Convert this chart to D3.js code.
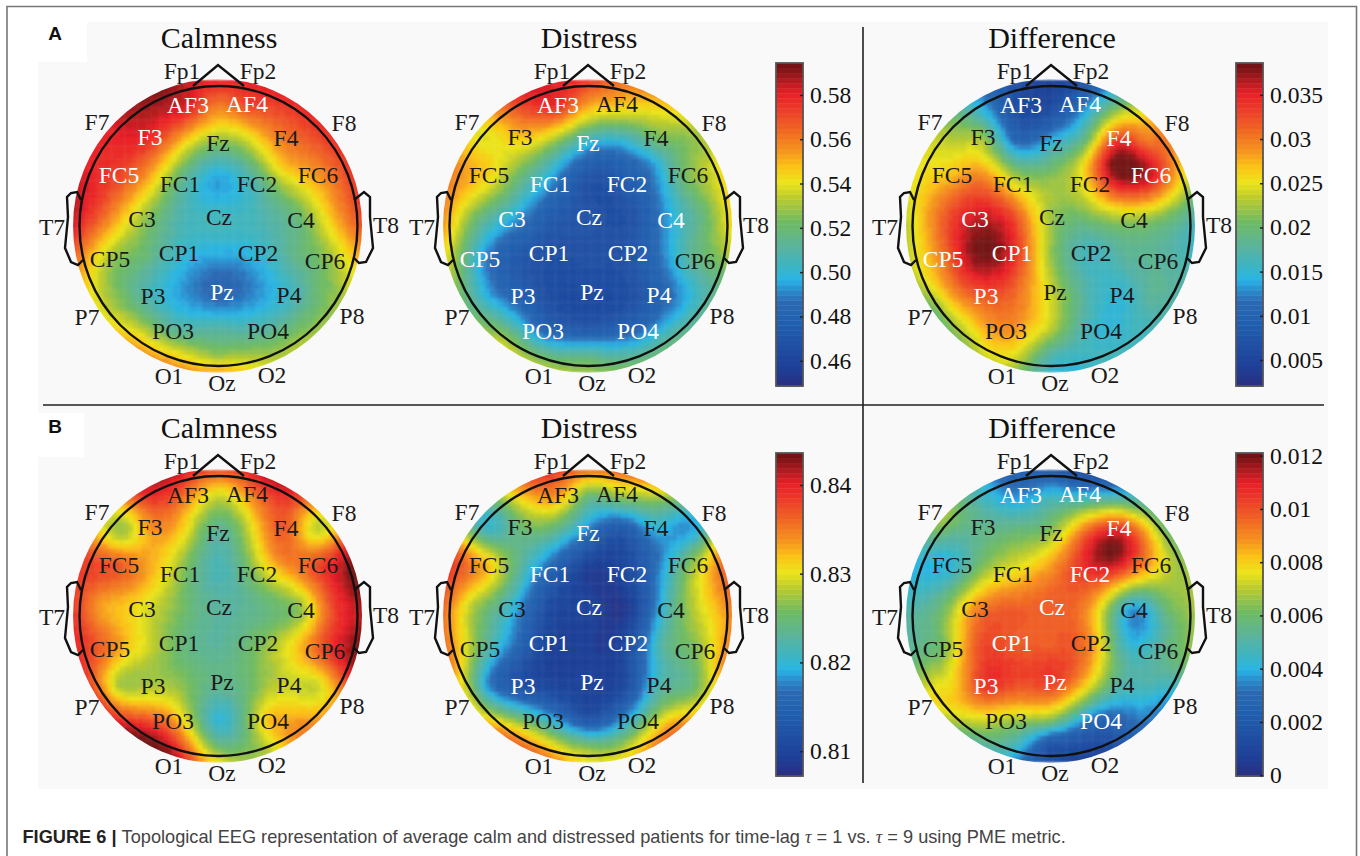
<!DOCTYPE html>
<html>
<head>
<meta charset="utf-8">
<script src="https://cdn.jsdelivr.net/npm/d3@7"></script>
<style>
  html, body { margin: 0; background: #fff; }
  svg { display: block; }
  .serif { font-family: "Liberation Serif", serif; }
  .bar-axis text { font-family: "Liberation Serif", serif; font-size: 23.5px; fill: #111; }
  .bar-axis line { stroke: #222; stroke-width: 1.5; }
</style>
</head>
<body>
<svg id="figure" width="1360" height="856"></svg>
<script>
const sensorNames = ["Fp1","Fp2","AF3","AF4","F7","F3","Fz","F4","F8","FC5","FC1","FC2","FC6","T7","C3","Cz","C4","T8","CP5","CP1","CP2","CP6","P7","P3","Pz","P4","P8","PO3","PO4","O1","Oz","O2"];
const sensorX = [-36,40,-30,29,-121,-68,0,68,126,-99,-38,39,100,-166,-76,1,83,168,-108,-39,40,107,-131,-65,4,71,134,-45,50,-49,4,54];
const sensorY = [-155,-155,-121,-122,-104,-89,-83,-88,-103,-51,-42,-42,-51,1,-7,-9,-6,-1,33,27,27,35,91,70,66,69,90,105,105,150,157,149];

// extra points read between the sensors, the last eight sit on the rim
const guideX = [0,0,0,0,-35,35,-68,62,-38,42,-75,75,-30,38,-100,100,-115,115,-95,95,0,-75,-130,-135,-85,75,130,135,85];
const guideY = [-120,-45,30,105,-85,-85,-47,-60,-8,-8,30,30,68,68,70,70,-10,-10,-85,-85,130,-125,-65,50,118,-125,-65,50,118];

const calmnessA = [.585,.58,.582,.572,.58,.578,.525,.562,.578,.572,.515,.51,.555,.582,.53,.505,.52,.57,.53,.503,.5,.525,.54,.505,.483,.503,.53,.515,.513,.555,.553,.535];
const calmnessAGuides = [.56,.494,.495,.512,.548,.54,.55,.545,.508,.507,.52,.515,.492,.492,.525,.52,.565,.55,.58,.568,.528,.59,.58,.55,.552,.578,.575,.54,.532];
const distressA = [.58,.56,.578,.55,.54,.548,.5,.522,.532,.545,.493,.475,.525,.555,.497,.47,.497,.545,.497,.468,.47,.515,.52,.478,.465,.48,.515,.485,.485,.53,.528,.52];
const distressAGuides = [.552,.468,.468,.475,.53,.5,.518,.49,.475,.468,.475,.49,.465,.466,.497,.497,.525,.518,.54,.525,.515,.572,.555,.53,.535,.55,.54,.52,.518];
const differenceA = [.007,.008,.0055,.011,.023,.022,.015,.033,.03,.027,.025,.027,.036,.023,.036,.022,.022,.016,.03,.035,.016,.018,.02,.032,.023,.015,.017,.029,.015,.024,.015,.016];
const differenceAGuides = [.006,.022,.022,.023,.011,.02,.03,.0385,.033,.021,.038,.018,.03,.017,.028,.018,.03,.021,.023,.03,.017,.014,.025,.024,.022,.02,.027,.017,.016];
const calmnessB = [.84,.84,.835,.834,.829,.834,.823,.837,.83,.837,.827,.827,.838,.839,.83,.823,.827,.842,.835,.825,.826,.838,.838,.828,.824,.829,.834,.834,.832,.842,.83,.828];
const calmnessBGuides = [.829,.8215,.823,.82,.831,.83,.833,.835,.826,.824,.83,.831,.826,.826,.828,.829,.833,.838,.827,.829,.825,.84,.837,.839,.843,.84,.841,.842,.835];
const distressB = [.838,.835,.834,.828,.821,.825,.817,.82,.82,.832,.815,.811,.826,.836,.82,.81,.823,.835,.825,.81,.811,.826,.83,.812,.81,.822,.83,.822,.823,.835,.83,.832];
const distressBGuides = [.825,.809,.809,.813,.824,.813,.823,.815,.811,.809,.817,.823,.81,.811,.818,.824,.828,.83,.821,.818,.826,.832,.836,.834,.835,.83,.833,.834,.836];
const differenceB = [.0025,.0015,.0035,.004,.0068,.0055,.0065,.0105,.0058,.0042,.0078,.0105,.0085,.005,.009,.0098,.0035,.0068,.0062,.0098,.009,.0052,.0078,.0105,.0103,.005,.0038,.0068,.0025,.0045,.0015,.001];
const differenceBGuides = [.0045,.009,.0098,.0062,.0058,.0095,.0065,.012,.0098,.0085,.0098,.0045,.01,.0078,.0078,.0048,.0055,.006,.0055,.0085,.0015,.0047,.0045,.006,.0058,.0038,.0062,.006,.0028];

const ticksA = [.46,.48,.5,.52,.54,.56,.58];
const ticksADiff = [.005,.01,.015,.02,.025,.03,.035];
const ticksB = [.81,.82,.83,.84];
const ticksBDiff = [0,.002,.004,.006,.008,.01,.012];

const whiteA = ["AF3","AF4","F3","FC5","Pz"];
const whiteADistress = ["AF3","Fz","FC1","FC2","C3","Cz","C4","CP5","CP1","CP2","P3","Pz","P4","PO3","PO4"];
const whiteADiff = ["AF3","AF4","F4","FC6","C3","CP5","CP1","P3"];
const whiteBDistress = ["Fz","FC1","FC2","Cz","CP1","CP2","P3","Pz"];
const whiteBDiff = ["AF3","AF4","F4","FC2","Cz","CP1","P3","Pz","PO4"];

const colourStops = [0,.05,.2,.26,.3,.33,.37,.427,.51,.583,.63,.68,.73,.85,.906,.985,1];
const colourValues = ["#2b2f7f","#1f3e96","#2060b0","#2a68b2","#2a8fd0","#29b5e6","#3cb5c4","#58b3a0","#70bb62","#bccb2d","#ebe51a","#fbc318","#f5931f","#ec3f28","#e81f27","#7a1416","#6e1214"];

const diskRadius = 146;
const gridSize = 67;
const colourLevels = 64;

const jet = d3.scaleLinear().domain(colourStops).range(colourValues).clamp(true);
const palette = d3.range(colourLevels).map(i => jet((i + 0.5) / colourLevels));

const svg = d3.select("#figure");

const green = r => (r < 1e-9 ? 0 : r * r * (Math.log(r) - 1));

const solve = (matrix, rhs) => {
  const n = rhs.length;
  const a = matrix.map((row, i) => [...row, rhs[i]]);
  for (let c = 0; c < n; c++) {
    let best = c;
    for (let r = c + 1; r < n; r++) if (Math.abs(a[r][c]) > Math.abs(a[best][c])) best = r;
    [a[c], a[best]] = [a[best], a[c]];
    for (let r = c + 1; r < n; r++) {
      const f = a[r][c] / a[c][c];
      for (let k = c; k <= n; k++) a[r][k] -= f * a[c][k];
    }
  }
  const w = new Array(n).fill(0);
  for (let r = n - 1; r >= 0; r--) {
    let s = a[r][n];
    for (let k = r + 1; k < n; k++) s -= a[r][k] * w[k];
    w[r] = s / a[r][r];
  }
  return w;
};

// sensors whose label sits outside the head are read on the rim
const samplePoints = () => {
  const onHead = sensorX.map((x, i) => {
    const scale = Math.min(1, diskRadius / Math.hypot(x, sensorY[i]));
    return [x * scale, sensorY[i] * scale];
  });
  return onHead.concat(guideX.map((x, i) => [x, guideY[i]]));
};

const makeField = values => {
  const pts = samplePoints().map(p => [p[0] / diskRadius, p[1] / diskRadius]);
  const mean = d3.mean(values);
  const matrix = pts.map((p, i) => pts.map((q, j) => green(Math.hypot(p[0] - q[0], p[1] - q[1])) + (i === j ? 1e-3 : 0)));
  const weights = solve(matrix, values.map(v => v - mean));
  return (x, y) => mean + d3.sum(pts, (p, i) => weights[i] * green(Math.hypot(x - p[0], y - p[1])));
};

const line = (x, y) => d3.line().x(d => x(d[0])).y(d => y(d[1]));

const earLeft = [[-137,-26],[-141,-34],[-147,-33],[-151,-29],[-150,-9],[-153,22],[-147,36],[-140,39],[-135,34]];
const earRight = [[136,-26],[146,-34],[152,-29],[152,-9],[155,22],[148,36],[141,37],[136,32]];
const nose = [[-25,-140],[0,-161],[26,-140]];

let headCount = 0;

const drawHead = (cx, cy, title, values, guides, domain, whiteNames) => {
  const id = `head-${headCount++}`;
  const x = d3.scaleLinear().domain([-diskRadius, diskRadius]).range([cx - diskRadius, cx + diskRadius]);
  const y = d3.scaleLinear().domain([-diskRadius, diskRadius]).range([cy - diskRadius, cy + diskRadius]);
  const colour = d3.scaleQuantize().domain(domain).range(palette);
  const field = makeField(values.concat(guides));

  svg.append("clipPath").attr("id", id)
    .append("ellipse").attr("cx", cx - 0.5).attr("cy", cy).attr("rx", 144.5).attr("ry", 147);

  const cell = 2 * diskRadius / gridSize;
  const cells = [];
  d3.range(gridSize).forEach(i => d3.range(gridSize).forEach(j => {
    const u = -diskRadius + (i + 0.5) * cell;
    const v = -diskRadius + (j + 0.5) * cell;
    if (Math.hypot(u, v) < diskRadius + 8) cells.push({ u, v, value: field(u / diskRadius, v / diskRadius) });
  }));

  svg.append("g").attr("clip-path", `url(#${id})`)
    .append("g").attr("filter", "url(#soft)")
    .selectAll("rect").data(cells).enter().append("rect")
    .attr("x", d => x(d.u - cell / 2))
    .attr("y", d => y(d.v - cell / 2))
    .attr("width", cell + 0.4)
    .attr("height", cell + 0.4)
    .attr("fill", d => colour(d.value));

  const outline = svg.append("g").attr("fill", "none").attr("stroke", "#111").attr("stroke-width", 2.4);
  outline.append("ellipse").attr("cx", x(0.5)).attr("cy", y(0)).attr("rx", 139).attr("ry", 140);
  [earLeft, earRight, nose].forEach(shape => outline.append("path").attr("d", line(x, y)(shape)));

  svg.append("text").attr("class", "serif").attr("x", cx + 1).attr("y", cy - 178)
    .attr("text-anchor", "middle").attr("font-size", 30).attr("fill", "#111").text(title);

  svg.append("g").attr("class", "serif").attr("font-size", 23.5)
    .selectAll("text").data(sensorNames).enter().append("text")
    .attr("x", (d, i) => x(sensorX[i]))
    .attr("y", (d, i) => y(sensorY[i]))
    .attr("dy", "0.35em")
    .attr("text-anchor", "middle")
    .attr("fill", d => (whiteNames.includes(d) ? "#fff" : "#1a1a1a"))
    .text(d => d);
};

const drawBar = (left, top, domain, ticks, format) => {
  const barWidth = 27;
  const barHeight = 323;
  const y = d3.scaleLinear().domain(domain).range([top + barHeight, top]);
  const step = (domain[1] - domain[0]) / colourLevels;
  svg.append("g").selectAll("rect").data(palette).enter().append("rect")
    .attr("x", left)
    .attr("y", (d, i) => y(domain[0] + (i + 1) * step))
    .attr("width", barWidth)
    .attr("height", barHeight / colourLevels + 0.4)
    .attr("fill", d => d);
  svg.append("rect").attr("x", left).attr("y", top).attr("width", barWidth).attr("height", barHeight)
    .attr("fill", "none").attr("stroke", "#555").attr("stroke-width", 1.8);
  const axis = d3.axisRight(y).tickValues(ticks).tickFormat(format).tickSizeInner(-3).tickSizeOuter(0).tickPadding(7);
  const g = svg.append("g").attr("class", "bar-axis").attr("transform", `translate(${left + barWidth}, 0)`).call(axis);
  g.select(".domain").remove();
};

const drawFrame = () => {
  svg.append("defs").append("filter").attr("id", "soft")
    .attr("x", "-5%").attr("y", "-5%").attr("width", "110%").attr("height", "110%")
    .append("feGaussianBlur").attr("stdDeviation", 0.8);

  svg.append("rect").attr("x", 38).attr("y", 22).attr("width", 1290).attr("height", 767).attr("fill", "#f9f9f9");
  svg.append("rect").attr("x", 38).attr("y", 22).attr("width", 49).attr("height", 40).attr("fill", "#fff");
  svg.append("rect").attr("x", 38).attr("y", 413).attr("width", 46).attr("height", 44).attr("fill", "#fff");

  svg.append("path").attr("d", "M7,856V6.5H1356.5V856").attr("fill", "none").attr("stroke", "#777").attr("stroke-width", 1.6);
  svg.append("path").attr("d", "M43,405H1324M863,27V783").attr("fill", "none").attr("stroke", "#222").attr("stroke-width", 1.6);

  const panelLetter = (t, px, py) => svg.append("text").attr("x", px).attr("y", py)
    .attr("font-family", "Liberation Sans").attr("font-weight", "bold").attr("font-size", 19)
    .attr("text-anchor", "middle").attr("fill", "#111").text(t);
  panelLetter("A", 55, 40);
  panelLetter("B", 55, 433);
};

const drawCaption = () => {
  const caption = svg.append("text").attr("x", 22.5).attr("y", 843)
    .attr("font-family", "Liberation Sans").attr("font-size", 18.2).attr("fill", "#444");
  caption.append("tspan").attr("font-weight", "bold").attr("fill", "#222").text("FIGURE 6 | ");
  caption.append("tspan").text("Topological EEG representation of average calm and distressed patients for time-lag ");
  caption.append("tspan").attr("font-family", "Liberation Serif").attr("font-style", "italic").text("τ");
  caption.append("tspan").text(" = 1 vs. ");
  caption.append("tspan").attr("font-family", "Liberation Serif").attr("font-style", "italic").text("τ");
  caption.append("tspan").text(" = 9 using PME metric.");
};

const main = () => {
  const domainA = [.4486, .5944];
  const domainADiff = [.00206, .0386];
  const domainB = [.8072, .8436];
  const domainBDiff = [-.00003, .0121];

  drawFrame();

  drawHead(218, 226, "Calmness", calmnessA, calmnessAGuides, domainA, whiteA);
  drawHead(588, 226, "Distress", distressA, distressAGuides, domainA, whiteADistress);
  drawHead(1051, 226, "Difference", differenceA, differenceAGuides, domainADiff, whiteADiff);
  drawHead(218, 616, "Calmness", calmnessB, calmnessBGuides, domainB, []);
  drawHead(588, 616, "Distress", distressB, distressBGuides, domainB, whiteBDistress);
  drawHead(1051, 616, "Difference", differenceB, differenceBGuides, domainBDiff, whiteBDiff);

  drawBar(776, 63, domainA, ticksA, d3.format(".2f"));
  drawBar(1236, 63, domainADiff, ticksADiff, d3.format("~g"));
  drawBar(776, 453, domainB, ticksB, d3.format(".2f"));
  drawBar(1236, 453, domainBDiff, ticksBDiff, d3.format("~g"));

  drawCaption();
};

window.onload = main;
</script>
</body>
</html>
